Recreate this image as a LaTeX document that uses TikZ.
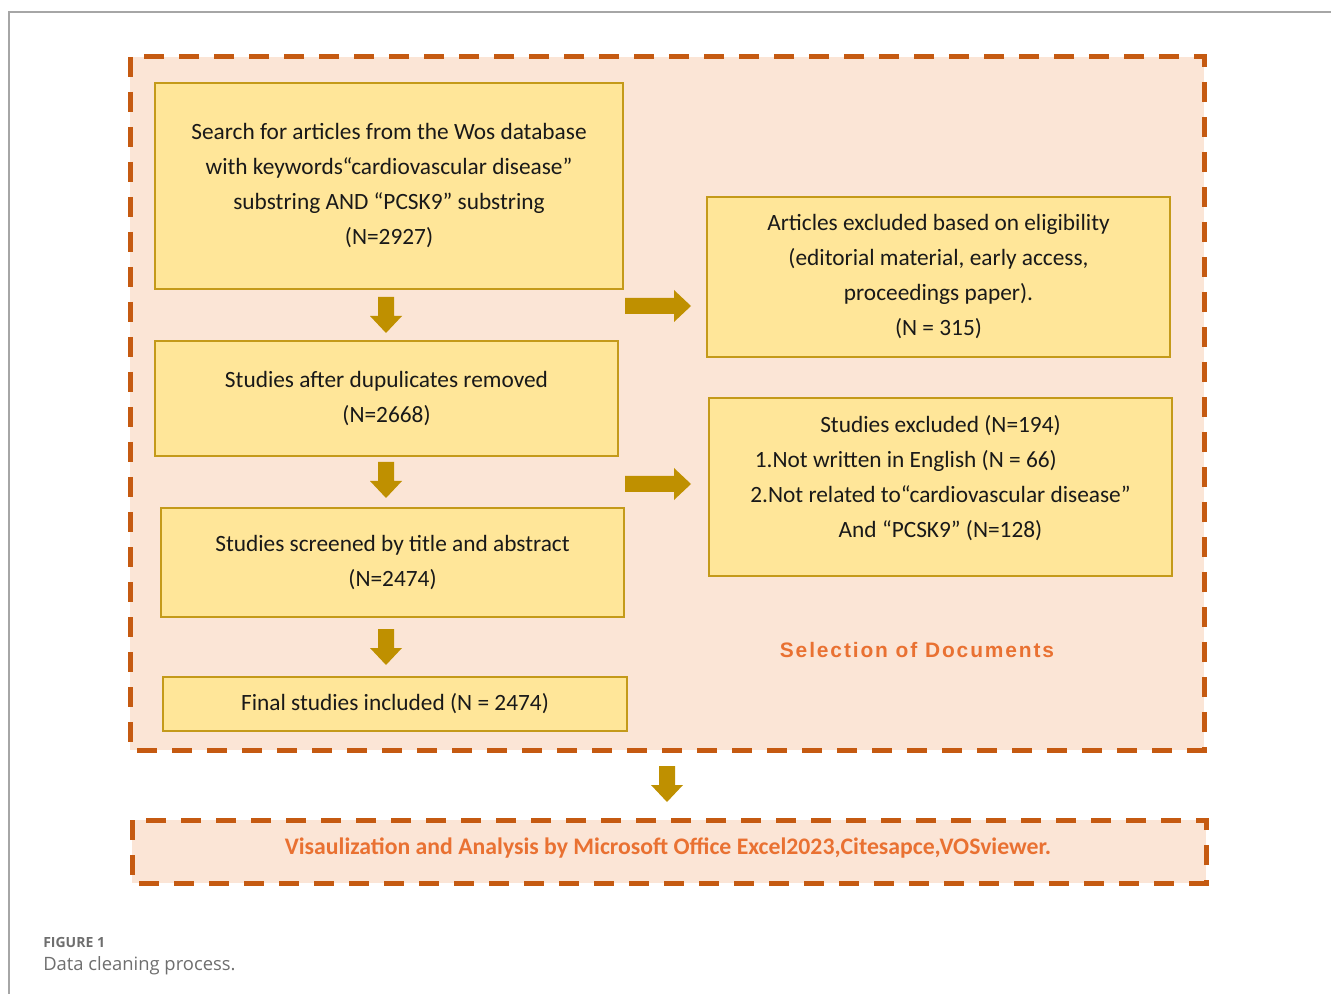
\documentclass[tikz,border=0pt]{standalone}
\usepackage{fontspec}
\setmainfont{Carlito}
\newfontfamily\arialbold[LetterSpace=9]{Liberation Sans Bold}
\newfontfamily\capfont{Open Sans}
\definecolor{peach}{HTML}{FBE5D6}
\definecolor{dashor}{HTML}{C55A11}
\definecolor{boxfill}{HTML}{FFE699}
\definecolor{boxline}{HTML}{C49A1A}
\definecolor{arrowc}{HTML}{BF9000}
\definecolor{orangetxt}{HTML}{E97132}
\definecolor{capgray}{HTML}{6E6E6E}
\tikzset{
  ybox/.style={draw=boxline, fill=boxfill, line width=1.5pt, inner sep=0pt, align=center,
    font=\fontsize{17.5}{26.25}\selectfont, text=black!90},
  btxt/.style={inner sep=0pt, align=center, font=\fontsize{17.5}{26.25}\selectfont, text=black!90},
  blockarrow/.style={fill=arrowc, draw=none},
  dashframe/.style={draw=dashor, fill=peach, line width=3.75pt, dash pattern=on 15pt off 11.25pt},
}
% block arrow pointing down, centred at (#1,#2)
\newcommand{\blkdown}[2]{%
  \fill[blockarrow] (#1-8,#2-18) -- (#1+8,#2-18) -- (#1+8,#2+1) -- (#1+16,#2+1) -- (#1,#2+18)
    -- (#1-16,#2+1) -- (#1-8,#2+1) -- cycle;}
% block arrow pointing right, centred at (#1,#2)
\newcommand{\blkright}[2]{%
  \fill[blockarrow] (#1-33,#2-8) -- (#1+16,#2-8) -- (#1+16,#2-16) -- (#1+33,#2) -- (#1+16,#2+16)
    -- (#1+16,#2+8) -- (#1-33,#2+8) -- cycle;}
\begin{document}
\begin{tikzpicture}[x=0.75pt,y=-0.75pt]
\useasboundingbox (0,0) rectangle (1331,994);
% outer thin frame
\draw[gray!70, line width=0.9pt] (9,994) -- (9,12) -- (1331,12);
% dashed frames
\path[dashframe] (130,57) rectangle (1204,750);
\path[dashframe] (132,820) rectangle (1206,883);
% left column boxes
\node[ybox, minimum width=351pt, minimum height=154.5pt] (b1) at (389,186)
  {Search for articles from the Wos database\\ with keywords“cardiovascular disease”\\ substring AND “PCSK9” substring\\ (N=2927)};
\node[ybox, minimum width=347.25pt, minimum height=86.25pt] (b2) at (386.5,398.5)
  {Studies after dupulicates removed\\ (N=2668)};
\node[ybox, minimum width=347.25pt, minimum height=81.75pt] (b3) at (392.5,562.5)
  {Studies screened by title and abstract\\ (N=2474)};
\node[ybox, minimum width=348pt, minimum height=40.5pt] (b4) at (395,704)
  {Final studies included (N = 2474)};
% right column boxes
\node[ybox, minimum width=347.25pt, minimum height=120pt] (ba) at (938.5,277)
  {Articles excluded based on eligibility\\ (editorial material, early access,\\ proceedings paper).\\ (N = 315)};
\node[ybox, minimum width=347.25pt, minimum height=133.5pt] (bb) at (940.5,487) {};
\node[btxt] (bbt) at (940.5,478.5)
  {Studies excluded (N=194)\\ 1.Not written in English (N = 66)\rule{52pt}{0pt}\\ 2.Not related to“cardiovascular disease”\\ And “PCSK9” (N=128)};
% block arrows
\blkdown{386}{315}
\blkdown{386}{480}
\blkdown{386}{647}
\blkdown{667}{784}
\blkright{658}{306}
\blkright{658}{484}
% labels
\node[text=orangetxt, font=\arialbold\fontsize{15.7}{18}\selectfont, inner sep=0pt] (sel) at (917,650) {Selection of Documents};
\node[text=orangetxt, font=\bfseries\fontsize{17.8}{20}\selectfont, inner sep=0pt] (vis) at (668,848)
  {Visaulization and Analysis by Microsoft Office Excel2023,Citesapce,VOSviewer.};
% caption
\node[anchor=west, text=capgray, font=\capfont\bfseries\fontsize{10.5}{12}\selectfont, inner sep=0pt] (fig) at (43,942) {FIGURE 1};
\node[anchor=west, text=capgray, font=\capfont\fontsize{13.8}{16}\selectfont, inner sep=0pt] (cap) at (43,966) {Data cleaning process.};
\end{tikzpicture}
\end{document}
